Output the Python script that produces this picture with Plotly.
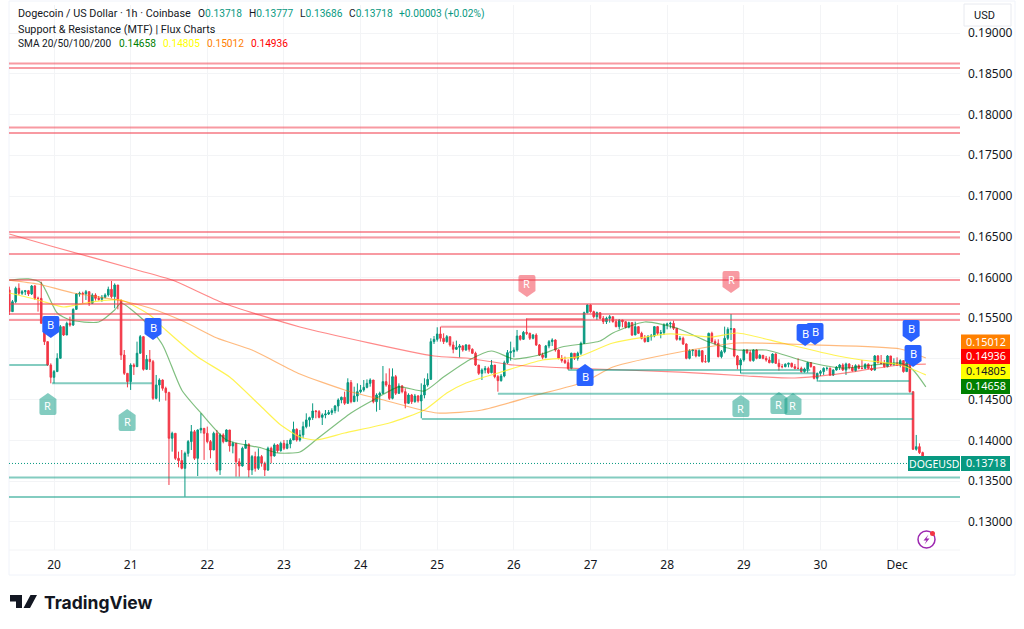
import plotly.graph_objects as go

# hourly candles. open is the previous close
first_open = 0.15847
closes = [
    0.15581, 0.15703, 0.15867, 0.15806, 0.15826, 0.15838, 0.15798, 0.15896, 0.15744, 0.15744, 0.15438, 0.15213,
    0.14926, 0.14775, 0.14845, 0.15008, 0.15397, 0.15294, 0.15438, 0.15417, 0.15609, 0.15798, 0.15806, 0.15798,
    0.15826, 0.15683, 0.15785, 0.15744, 0.15732, 0.15757, 0.15785, 0.15855, 0.15765, 0.15908, 0.15724, 0.15049,
    0.14824, 0.14722, 0.14926, 0.14906, 0.15070, 0.15274, 0.14873, 0.14996, 0.14967, 0.14517, 0.14681, 0.14742,
    0.14640, 0.14587, 0.14027, 0.14088, 0.13781, 0.13753, 0.13658, 0.13842, 0.13986, 0.14108, 0.13781, 0.14129,
    0.14149, 0.14088, 0.13986, 0.13883, 0.14088, 0.13638, 0.14068, 0.13986, 0.14129, 0.13933, 0.13965, 0.13740,
    0.13687, 0.13904, 0.13953, 0.13638, 0.13802, 0.13658, 0.13802, 0.13720, 0.13638, 0.13904, 0.13810, 0.13945,
    0.13875, 0.13965, 0.13904, 0.13957, 0.14006, 0.14137, 0.14006, 0.14068, 0.14170, 0.14252, 0.14280, 0.14362,
    0.14354, 0.14284, 0.14313, 0.14325, 0.14342, 0.14366, 0.14423, 0.14497, 0.14530, 0.14456, 0.14710, 0.14476,
    0.14546, 0.14599, 0.14620, 0.14652, 0.14701, 0.14742, 0.14476, 0.14558, 0.14579, 0.14722, 0.14681, 0.14517,
    0.14783, 0.14579, 0.14669, 0.14599, 0.14456, 0.14558, 0.14476, 0.14546, 0.14485, 0.14558, 0.14681, 0.14750,
    0.15213, 0.15241, 0.15307, 0.15254, 0.15213, 0.15274, 0.15172, 0.15119, 0.15143, 0.15160, 0.15110, 0.15172,
    0.15119, 0.15070, 0.14926, 0.14824, 0.14865, 0.14885, 0.14832, 0.14926, 0.14783, 0.14734, 0.14791, 0.14955,
    0.15078, 0.15090, 0.15110, 0.15282, 0.15241, 0.15327, 0.15315, 0.15254, 0.15294, 0.15172, 0.15049, 0.15020,
    0.15160, 0.15213, 0.15233, 0.15110, 0.15008, 0.14980, 0.14955, 0.14885, 0.15070, 0.15008, 0.15070, 0.15192,
    0.15568, 0.15663, 0.15581, 0.15519, 0.15568, 0.15499, 0.15458, 0.15499, 0.15519, 0.15458, 0.15397, 0.15479,
    0.15458, 0.15389, 0.15446, 0.15294, 0.15397, 0.15315, 0.15254, 0.15213, 0.15274, 0.15282, 0.15397, 0.15315,
    0.15323, 0.15417, 0.15429, 0.15438, 0.15376, 0.15241, 0.15254, 0.15184, 0.15008, 0.15102, 0.15110, 0.15037,
    0.15102, 0.14967, 0.14967, 0.15315, 0.15213, 0.15192, 0.15029, 0.15090, 0.15254, 0.15364, 0.15372, 0.15037,
    0.14926, 0.14988, 0.15110, 0.15078, 0.14980, 0.15110, 0.15008, 0.15045, 0.15008, 0.14988, 0.14955, 0.15061,
    0.14947, 0.14906, 0.14906, 0.14935, 0.14947, 0.14906, 0.14885, 0.14885, 0.14845, 0.14877, 0.14955, 0.14906,
    0.14763, 0.14824, 0.14845, 0.14885, 0.14885, 0.14804, 0.14865, 0.14898, 0.14926, 0.14865, 0.14939, 0.14894,
    0.14857, 0.14918, 0.14885, 0.14885, 0.14935, 0.14885, 0.14865, 0.15037, 0.14955, 0.14947, 0.14906, 0.15037,
    0.14926, 0.14947, 0.14926, 0.14980, 0.14845, 0.14955, 0.14599, 0.13892, 0.13924, 0.13851, 0.13802, 0.13718,
]
highs = [
    0.15888, 0.15724, 0.15888, 0.15928, 0.15847, 0.15847, 0.15847, 0.15908, 0.15908, 0.15765, 0.15949, 0.15438,
    0.15213, 0.14947, 0.14865, 0.15070, 0.15417, 0.15397, 0.15458, 0.15519, 0.15622, 0.15806, 0.15826, 0.15826,
    0.15847, 0.15806, 0.15806, 0.15806, 0.15773, 0.15785, 0.15806, 0.15888, 0.15957, 0.15928, 0.15908, 0.15724,
    0.15110, 0.14824, 0.14947, 0.14947, 0.15213, 0.15294, 0.15254, 0.15049, 0.15110, 0.14988, 0.14804, 0.14763,
    0.14750, 0.14660, 0.14599, 0.14108, 0.14088, 0.13863, 0.13883, 0.13863, 0.14006, 0.14190, 0.14129, 0.14137,
    0.14333, 0.14149, 0.14170, 0.14006, 0.14108, 0.14129, 0.14088, 0.14088, 0.14137, 0.14129, 0.13986, 0.13965,
    0.13781, 0.13924, 0.14006, 0.13965, 0.13822, 0.13863, 0.13904, 0.13822, 0.13740, 0.13924, 0.13924, 0.13965,
    0.13957, 0.13986, 0.14006, 0.14006, 0.14027, 0.14231, 0.14149, 0.14129, 0.14231, 0.14333, 0.14292, 0.14456,
    0.14374, 0.14374, 0.14333, 0.14374, 0.14374, 0.14395, 0.14436, 0.14517, 0.14538, 0.14599, 0.14763, 0.14742,
    0.14660, 0.14701, 0.14681, 0.14742, 0.14750, 0.14763, 0.14742, 0.14579, 0.14599, 0.14914, 0.14824, 0.14885,
    0.14885, 0.14804, 0.14701, 0.14681, 0.14640, 0.14579, 0.14571, 0.14571, 0.14558, 0.14701, 0.14763, 0.14824,
    0.15254, 0.15282, 0.15389, 0.15397, 0.15315, 0.15294, 0.15274, 0.15213, 0.15225, 0.15184, 0.15172, 0.15184,
    0.15172, 0.15131, 0.15090, 0.14926, 0.14885, 0.14914, 0.14906, 0.14988, 0.14926, 0.14804, 0.14816, 0.14980,
    0.15110, 0.15213, 0.15143, 0.15356, 0.15294, 0.15344, 0.15499, 0.15323, 0.15307, 0.15315, 0.15184, 0.15078,
    0.15172, 0.15233, 0.15254, 0.15241, 0.15119, 0.15049, 0.15029, 0.14996, 0.15078, 0.15070, 0.15090, 0.15213,
    0.15581, 0.15671, 0.15671, 0.15593, 0.15581, 0.15568, 0.15528, 0.15519, 0.15540, 0.15519, 0.15487, 0.15487,
    0.15479, 0.15458, 0.15458, 0.15438, 0.15458, 0.15389, 0.15335, 0.15294, 0.15294, 0.15307, 0.15405, 0.15405,
    0.15356, 0.15438, 0.15446, 0.15458, 0.15470, 0.15376, 0.15282, 0.15274, 0.15192, 0.15119, 0.15119, 0.15110,
    0.15119, 0.15090, 0.15049, 0.15323, 0.15335, 0.15241, 0.15241, 0.15110, 0.15397, 0.15389, 0.15552, 0.15376,
    0.15049, 0.15008, 0.15119, 0.15119, 0.15110, 0.15119, 0.15119, 0.15061, 0.15049, 0.15037, 0.15029, 0.15070,
    0.15070, 0.14996, 0.14939, 0.14947, 0.14955, 0.14955, 0.14939, 0.15008, 0.14906, 0.14894, 0.14967, 0.14955,
    0.14914, 0.14832, 0.14865, 0.14898, 0.14906, 0.14898, 0.14873, 0.14914, 0.14939, 0.14947, 0.14955, 0.14947,
    0.14926, 0.14935, 0.14935, 0.14988, 0.14947, 0.14947, 0.14926, 0.15049, 0.15049, 0.15049, 0.14988, 0.15049,
    0.15037, 0.15008, 0.15020, 0.14996, 0.14955, 0.14967, 0.14955, 0.14599, 0.14068, 0.13965, 0.13863, 0.13777,
]
lows = [
    0.15540, 0.15581, 0.15683, 0.15785, 0.15785, 0.15785, 0.15773, 0.15785, 0.15724, 0.15581, 0.15438, 0.15172,
    0.14914, 0.14701, 0.14701, 0.14845, 0.15008, 0.15282, 0.15294, 0.15397, 0.15405, 0.15601, 0.15765, 0.15683,
    0.15724, 0.15650, 0.15703, 0.15716, 0.15716, 0.15703, 0.15744, 0.15765, 0.15744, 0.15622, 0.15609, 0.14988,
    0.14804, 0.14652, 0.14620, 0.14804, 0.14906, 0.15070, 0.14857, 0.14865, 0.14865, 0.14497, 0.14505, 0.14476,
    0.14611, 0.14489, 0.13454, 0.13863, 0.13761, 0.13671, 0.13646, 0.13311, 0.13802, 0.13883, 0.13761, 0.13564,
    0.14088, 0.13761, 0.13965, 0.13781, 0.13883, 0.13618, 0.13577, 0.13965, 0.13986, 0.13863, 0.13842, 0.13556,
    0.13556, 0.13679, 0.13904, 0.13548, 0.13577, 0.13618, 0.13638, 0.13679, 0.13564, 0.13626, 0.13720, 0.13802,
    0.13851, 0.13863, 0.13883, 0.13892, 0.13904, 0.14006, 0.13986, 0.13986, 0.14027, 0.14149, 0.14170, 0.14252,
    0.14272, 0.14272, 0.14190, 0.14272, 0.14313, 0.14313, 0.14333, 0.14354, 0.14456, 0.14436, 0.14464, 0.14456,
    0.14476, 0.14476, 0.14579, 0.14599, 0.14640, 0.14660, 0.14456, 0.14354, 0.14374, 0.14571, 0.14660, 0.14497,
    0.14505, 0.14558, 0.14571, 0.14579, 0.14395, 0.14448, 0.14448, 0.14464, 0.14464, 0.14272, 0.14517, 0.14660,
    0.14742, 0.15184, 0.15213, 0.15213, 0.15184, 0.15200, 0.15151, 0.15070, 0.15110, 0.15020, 0.15090, 0.15102,
    0.15090, 0.15061, 0.14914, 0.14804, 0.14742, 0.14824, 0.14816, 0.14824, 0.14763, 0.14599, 0.14722, 0.14775,
    0.14939, 0.14980, 0.15020, 0.15090, 0.15225, 0.15233, 0.15294, 0.15233, 0.15241, 0.15160, 0.15037, 0.14996,
    0.15008, 0.15131, 0.15160, 0.15090, 0.14996, 0.14955, 0.14939, 0.14865, 0.14873, 0.14988, 0.14980, 0.15049,
    0.15184, 0.15560, 0.15568, 0.15499, 0.15479, 0.15487, 0.15429, 0.15429, 0.15446, 0.15446, 0.15389, 0.15364,
    0.15389, 0.15376, 0.15376, 0.15282, 0.15294, 0.15307, 0.15241, 0.15200, 0.15213, 0.15225, 0.15266, 0.15294,
    0.15254, 0.15294, 0.15364, 0.15376, 0.15356, 0.15225, 0.15225, 0.15172, 0.14996, 0.14996, 0.15037, 0.15020,
    0.15029, 0.14955, 0.14955, 0.14955, 0.15200, 0.15172, 0.15020, 0.15008, 0.15070, 0.15233, 0.15233, 0.15020,
    0.14873, 0.14824, 0.14967, 0.15061, 0.14967, 0.14967, 0.14996, 0.15008, 0.14996, 0.14967, 0.14947, 0.14947,
    0.14939, 0.14857, 0.14885, 0.14898, 0.14898, 0.14894, 0.14873, 0.14873, 0.14832, 0.14832, 0.14832, 0.14894,
    0.14750, 0.14722, 0.14791, 0.14804, 0.14857, 0.14791, 0.14791, 0.14857, 0.14865, 0.14853, 0.14804, 0.14873,
    0.14845, 0.14845, 0.14873, 0.14873, 0.14873, 0.14873, 0.14853, 0.14857, 0.14947, 0.14935, 0.14894, 0.14898,
    0.14914, 0.14926, 0.14914, 0.14898, 0.14832, 0.14885, 0.14587, 0.13883, 0.13875, 0.13834, 0.13781, 0.13686,
]
bars = list(range(len(closes)))
opens = [first_open] + closes[:-1]

# moving averages, sampled at the bars where they were read
sma20_bars = [0, 6, 10, 15, 19, 28, 33, 35, 42, 48, 54, 60, 68, 79, 84, 91, 96, 107, 114, 122, 130, 136, 144, 151,
              158, 166, 173, 185, 189, 199, 209, 219, 228, 237, 250, 261, 279, 283, 287]
sma20 = [0.15969, 0.15982, 0.15933, 0.15564, 0.15478, 0.15454, 0.15601, 0.15687, 0.15478, 0.15172, 0.14620, 0.14337,
         0.14006, 0.13908, 0.13847, 0.13859, 0.14006, 0.14337, 0.14497, 0.14657, 0.14608, 0.14779, 0.14988, 0.15098,
         0.15000, 0.15049, 0.15147, 0.15221, 0.15319, 0.15454, 0.15380, 0.15209, 0.15110, 0.15110, 0.14963, 0.14889,
         0.14951, 0.14865, 0.14658]
sma50_bars = [0, 9, 17, 26, 35, 44, 49, 59, 69, 79, 85, 91, 96, 105, 119, 130, 137, 143, 154, 167, 178, 189, 207,
              220, 228, 242, 258, 267, 279, 287]
sma50 = [0.15810, 0.15724, 0.15638, 0.15700, 0.15724, 0.15540, 0.15356, 0.15025, 0.14779, 0.14411, 0.14190, 0.14043,
         0.14006, 0.14092, 0.14215, 0.14374, 0.14583, 0.14706, 0.14840, 0.14988, 0.15025, 0.15196, 0.15307,
         0.15270, 0.15319, 0.15196, 0.15049, 0.14988, 0.14926, 0.14805]
sma100_bars = [0, 9, 20, 34, 44, 55, 65, 76, 91, 105, 116, 134, 148, 164, 180, 189, 210, 228, 252, 279, 287]
sma100 = [0.15969, 0.15920, 0.15810, 0.15724, 0.15626, 0.15454, 0.15258, 0.15110, 0.14816, 0.14620, 0.14509, 0.14337,
          0.14374, 0.14546, 0.14718, 0.14902, 0.15086, 0.15196, 0.15172, 0.15123, 0.15012]
sma200_bars = [0, 13, 40, 51, 67, 91, 133, 143, 158, 175, 210, 231, 246, 257, 279, 287]
sma200 = [0.16534, 0.16387, 0.16092, 0.15969, 0.15687, 0.15393, 0.15037, 0.15012, 0.14926, 0.14889, 0.14840, 0.14791,
          0.14767, 0.14804, 0.14926, 0.14936]

# support and resistance
resistance_levels = [0.18626, 0.18571, 0.17840, 0.17773, 0.16558, 0.16491, 0.16288, 0.15969, 0.15675, 0.15552, 0.15479]
support_levels = [0.13546, 0.13307]
res_seg_from = [135.2, 162]
res_seg_to = [180, 180]
res_seg_price = [0.15396, 0.1549]
sup_seg_from = [0, 13.4, 129.2, 153, 175, 229, 253.3]
sup_seg_to = [12, 44.7, 283, 283, 250.8, 252.3, 281.8]
sup_seg_price = [0.14926, 0.14702, 0.14264, 0.14574, 0.14865, 0.14824, 0.1473]

# B and R flags, tip position
buy_down_bars = [13, 45, 252.3, 249.2, 282.4, 283]
buy_down_prices = [0.15258, 0.15233, 0.15172, 0.15159, 0.15209, 0.14902]
buy_up_bars = [180.3]
buy_up_prices = [0.14939]
red_flag_bars = [162.1, 226]
red_flag_prices = [0.15761, 0.15810]
green_flag_bars = [12.1, 36.9, 229.1, 241, 245.4]
green_flag_prices = [0.14583, 0.14387, 0.14558, 0.14595, 0.14583]

last_price = 0.13718
day_bars = [14, 38, 62, 86, 110, 134, 158, 182, 206, 230, 254, 278]
day_labels = ["20", "21", "22", "23", "24", "25", "26", "27", "28", "29", "30", "Dec"]
price_ticks = [0.13, 0.135, 0.14, 0.145, 0.15, 0.155, 0.16, 0.165, 0.17, 0.175, 0.18, 0.185, 0.19]
# 0.15000 sits behind the SMA labels in the original
price_labels = ["0.13000", "0.13500", "0.14000", "0.14500", "", "0.15500", "0.16000", "0.16500", "0.17000",
                "0.17500", "0.18000", "0.18500", "0.19000"]

UP = "#089981"
DOWN = "#F23645"
RED_LINE = "rgba(242,54,69,0.5)"
GREEN_LINE = "rgba(8,153,129,0.5)"
FONT = "Roboto"


def px_x(x):
    return (x - 9) / 951


def px_y(y):
    return (550 - y) / 545


def head_text(x, y, txt, col="#131722", size=10.8):
    fig.add_annotation(xref="paper", yref="paper", x=px_x(x), y=px_y(y), text=txt, showarrow=False,
                       xanchor="left", yanchor="middle", font=dict(size=size, color=col, family=FONT))


fig = go.Figure()
fig.add_trace(go.Candlestick(x=bars, open=opens, high=highs, low=lows, close=closes,
                             increasing=dict(line=dict(color=UP, width=1), fillcolor=UP),
                             decreasing=dict(line=dict(color=DOWN, width=1), fillcolor=DOWN),
                             whiskerwidth=0, hoverinfo="skip", showlegend=False))

for xs, ys, col in [(sma20_bars, sma20, "rgba(0,128,0,0.5)"),
                    (sma50_bars, sma50, "rgba(255,240,40,0.8)"),
                    (sma100_bars, sma100, "rgba(255,130,20,0.55)"),
                    (sma200_bars, sma200, "rgba(255,40,40,0.55)")]:
    fig.add_trace(go.Scatter(x=xs, y=ys, mode="lines", showlegend=False, hoverinfo="skip",
                             line=dict(color=col, width=1.2, shape="spline", smoothing=0.6)))

fig.add_hline(y=last_price, line=dict(color=UP, width=1, dash="1px,2px"))
for lev in resistance_levels:
    fig.add_hline(y=lev, line=dict(color=RED_LINE, width=2))
for lev in support_levels:
    fig.add_hline(y=lev, line=dict(color=GREEN_LINE, width=2))
for a, b, p in zip(res_seg_from, res_seg_to, res_seg_price):
    fig.add_shape(type="line", x0=a, x1=b, y0=p, y1=p, line=dict(color=RED_LINE, width=2))
for a, b, p in zip(sup_seg_from, sup_seg_to, sup_seg_price):
    fig.add_shape(type="line", x0=a, x1=b, y0=p, y1=p, line=dict(color=GREEN_LINE, width=2))

PIN_DOWN = "M 0 0 L -8.5 6 V 20 Q -8.5 22 -6.5 22 H 6.5 Q 8.5 22 8.5 20 V 6 Z"
PIN_UP = "M 0 0 L -8.5 -6 V -20 Q -8.5 -22 -6.5 -22 H 6.5 Q 8.5 -22 8.5 -20 V -6 Z"


def add_flag(bar, price, path, color, letter, shift):
    fig.add_shape(type="path", path=path, xsizemode="pixel", ysizemode="pixel", xanchor=bar, yanchor=price,
                  xref="x", yref="y", fillcolor=color, line=dict(width=0))
    fig.add_annotation(x=bar, y=price, text=letter, showarrow=False, yshift=shift,
                       font=dict(color="white", size=11, family="Noto Sans"))


for b, p in zip(green_flag_bars, green_flag_prices):
    add_flag(b, p, PIN_UP, "rgba(8,153,129,0.5)", "R", -13)
for b, p in zip(red_flag_bars, red_flag_prices):
    add_flag(b, p, PIN_DOWN, "rgba(242,54,69,0.5)", "R", 13)
for b, p in zip(buy_down_bars, buy_down_prices):
    add_flag(b, p, PIN_DOWN, "#2962FF", "B", 13)
for b, p in zip(buy_up_bars, buy_up_prices):
    add_flag(b, p, PIN_UP, "#2962FF", "B", -13)

# outer frame and the axis separator
fig.add_shape(type="rect", xref="paper", yref="paper", x0=0, x1=px_x(1015), y0=px_y(575), y1=px_y(1),
              line=dict(color="#f0f3fa", width=1), layer="below")
fig.add_shape(type="line", xref="paper", yref="paper", x0=0, x1=1, y0=px_y(550), y1=px_y(550),
              line=dict(color="#f3f4f6", width=1), layer="below")
fig.add_shape(type="rect", xref="paper", yref="paper", x0=px_x(964), x1=px_x(1011), y0=px_y(26), y1=px_y(4),
              line=dict(color="#e8eaf0", width=1), fillcolor="white")

# header
head_text(16, 14, "Dogecoin / US Dollar · 1h · Coinbase")
for x, letter, val in [(196, "O", "0.13718"), (247, "H", "0.13777"), (298, "L", "0.13686"), (347, "C", "0.13718")]:
    head_text(x, 14, letter + "<span style='color:#089981'>" + val + "</span>", size=10.2)
head_text(397, 14, "+0.00003 (+0.02%)", col=UP, size=10.2)
head_text(16, 29, "Support &amp; Resistance (MTF) | Flux Charts")
head_text(16, 44, "SMA 20/50/100/200", size=10.1)
for x, val, col in [(117, "0.14658", "#008000"), (161, "0.14805", "#FFFF00"),
                    (205, "0.15012", "#FF8000"), (249, "0.14936", "#FF0000")]:
    head_text(x, 44, val, col=col, size=10.2)

head_text(972, 15, "USD", size=11)

# price labels on the axis
for txt, y, col, fc in [("0.15012", 342, "#FF8000", "white"), ("0.14936", 356.5, "#FF0000", "white"),
                        ("0.14805", 371.5, "#FFFF00", "#131722"), ("0.14658", 386.5, "#008000", "white"),
                        ("0.13718", 463.5, UP, "white")]:
    fig.add_shape(type="rect", xref="paper", yref="paper", x0=px_x(961), x1=px_x(1010), y0=px_y(y + 7.5),
                  y1=px_y(y - 7.5), fillcolor=col, line=dict(width=0))
    fig.add_annotation(xref="paper", yref="paper", x=px_x(985.5), y=px_y(y - 1), text=txt, showarrow=False,
                       xanchor="center", yanchor="middle", font=dict(size=10.8, color=fc, family="Noto Sans"))
fig.add_shape(type="rect", xref="paper", yref="paper", x0=px_x(908), x1=px_x(960), y0=px_y(471), y1=px_y(456),
              fillcolor=UP, line=dict(width=0))
fig.add_annotation(xref="paper", yref="paper", x=px_x(934), y=px_y(463.5), text="DOGEUSD", showarrow=False,
                   xanchor="center", yanchor="middle", font=dict(size=10.5, color="white", family="Noto Sans"))

# lightning badge
fig.add_shape(type="circle", xref="paper", yref="paper", x0=px_x(918), x1=px_x(935), y0=px_y(548), y1=px_y(531),
              line=dict(color="#9C27B0", width=1.5))
fig.add_shape(type="path", xsizemode="pixel", ysizemode="pixel", xref="paper", yref="paper",
              xanchor=px_x(926.5), yanchor=px_y(539.5), path="M 2 5 L -3 -1 H 0 L -2 -5 L 3 1 H 0 Z",
              fillcolor="#9C27B0", line=dict(width=0))
fig.add_shape(type="circle", xref="paper", yref="paper", x0=px_x(930), x1=px_x(935), y0=px_y(536), y1=px_y(531),
              fillcolor="#F23645", line=dict(width=0))

# TradingView logo
fig.add_shape(type="path", xsizemode="pixel", ysizemode="pixel", xref="paper", yref="paper",
              xanchor=px_x(10), yanchor=px_y(608),
              path="M 0 13 H 12 V 0 H 6 V 6.5 H 0 Z M 19.5 9.5 A 3.2 3.2 0 1 1 19.49 9.5 Z M 27 13 L 20 0 H 13.5 L 20.5 13 Z",
              fillcolor="#131722", line=dict(width=0))
fig.add_annotation(xref="paper", yref="paper", x=px_x(42), y=px_y(602), text="<b>TradingView</b>", showarrow=False,
                   xanchor="left", yanchor="middle", font=dict(size=17.5, color="#131722", family="Inter"))

fig.update_layout(
    width=1024, height=629, margin=dict(l=9, r=64, t=5, b=79),
    paper_bgcolor="white", plot_bgcolor="white", showlegend=False,
    font=dict(family=FONT, color="#131722", size=12),
    xaxis=dict(range=[-0.09, 297.7], tickmode="array", tickvals=day_bars, ticktext=day_labels, showgrid=True,
               gridcolor="#f3f4f6", gridwidth=1, zeroline=False, rangeslider=dict(visible=False), showline=False,
               ticks="", ticklabelstandoff=6, tickfont=dict(size=12, color="#131722", family="Noto Sans")),
    yaxis=dict(range=[0.12656, 0.19344], side="right", tickmode="array", tickvals=price_ticks,
               ticktext=price_labels, showgrid=True, gridcolor="#f3f4f6", gridwidth=1,
               zeroline=False, showline=False, ticks="", ticklabelstandoff=7,
               tickfont=dict(size=12, color="#131722", family="Noto Sans")),
)

fig.write_html("out.html", config={"displayModeBar": False}, post_script="document.body.style.margin='0';")
